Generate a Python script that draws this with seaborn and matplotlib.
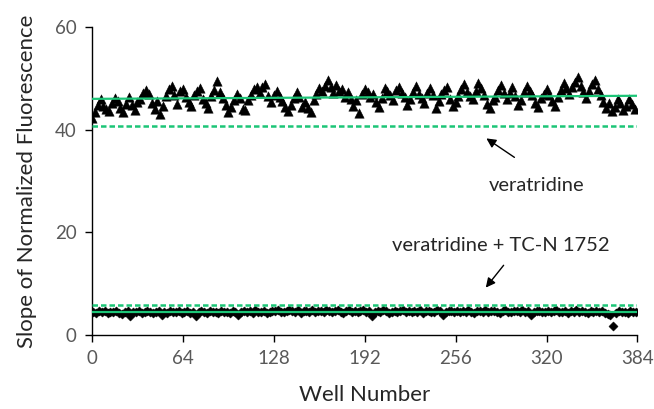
import seaborn as sns
import matplotlib.pyplot as plt
import numpy as np
import pandas as pd

# veratridine wells (triangles), every other well 0..382
ver_wells = list(range(0, 384, 2))
ver_vals = [
    42.3, 43.5, 44.8, 45.9, 44.6, 44.0, 43.6, 45.2, 46.1, 45.5, 44.2, 43.4, 45.0, 46.3, 44.9, 43.8,
    45.4, 46.0, 47.2, 47.8, 46.9, 45.2, 44.1, 45.6, 43.0, 44.7, 46.5, 47.9, 48.5, 46.8, 45.0, 47.6,
    48.0, 46.4, 45.3, 44.6, 46.8, 47.5, 48.2, 46.0, 45.1, 44.3, 46.6, 47.7, 49.5, 47.3, 46.2, 44.8,
    43.4, 44.5, 45.8, 47.0, 46.1, 44.0, 43.8, 45.7, 46.8, 47.9, 48.3, 47.2, 48.4, 48.8, 46.5, 45.3,
    46.7, 47.6, 46.3, 45.6, 44.4, 43.6, 44.9, 46.2, 47.3, 46.4, 44.5, 45.4, 44.2, 43.5, 45.8, 47.0,
    48.2, 47.5, 48.6, 49.6, 48.3, 47.2, 48.7, 47.6, 48.0, 46.3, 47.4, 45.9, 44.6, 45.8, 43.2, 46.9,
    47.9, 47.3, 46.4, 47.0, 45.4, 44.5, 46.1, 48.2, 47.5, 46.8, 45.7, 47.8, 48.4, 47.1, 46.3, 44.8,
    45.9, 47.4, 48.6, 47.0, 46.2, 45.1, 47.2, 48.1, 46.7, 44.3, 45.6, 46.9, 47.8, 48.3, 46.0, 44.7,
    45.3, 46.6, 48.0, 48.9, 47.4, 46.5, 45.9, 47.6, 49.0, 48.2, 46.8, 45.0, 44.2, 45.7, 46.3, 47.7,
    48.7, 47.2, 46.0, 47.1, 48.4, 46.6, 44.9, 45.8, 47.3, 48.5, 47.6, 46.7, 45.2, 44.4, 46.2, 47.0,
    47.9, 46.8, 45.5, 44.6, 46.4, 47.7, 49.0, 48.1, 46.9, 48.3, 49.3, 50.2, 48.6, 47.4, 46.2, 47.5,
    48.8, 49.6, 48.0, 46.7, 45.4, 44.3, 45.1, 43.6, 44.5, 46.0, 45.2, 43.8, 44.7, 45.9, 45.0, 44.1,
]

# veratridine + TC-N 1752 wells (diamonds), the other half
tc_wells = list(range(1, 384, 2))
tc_vals = [
    4.5, 4.3, 4.6, 4.4, 4.7, 4.2, 4.5, 4.4, 4.6, 4.3, 4.1, 4.5, 4.6, 3.7, 4.4, 4.5,
    4.6, 4.3, 4.5, 4.7, 4.4, 4.2, 4.5, 4.6, 3.9, 4.4, 4.3, 4.6, 4.5, 4.4, 4.7, 4.2,
    4.5, 4.6, 4.3, 4.5, 3.6, 4.4, 4.6, 4.5, 4.3, 4.7, 4.4, 4.5, 4.2, 4.6, 4.4, 4.5,
    4.3, 4.6, 4.5, 3.9, 4.4, 4.7, 4.5, 4.6, 4.3, 4.8, 4.5, 4.4, 4.6, 4.2, 4.5, 4.7,
    4.6, 4.8, 4.5, 4.4, 4.7, 4.9, 4.6, 4.5, 4.8, 4.3, 4.6, 4.7, 4.5, 4.8, 4.4, 4.6,
    4.7, 4.5, 4.9, 4.6, 4.4, 4.7, 4.8, 4.5, 4.3, 4.6, 4.8, 4.5, 4.7, 4.4, 4.6, 4.8,
    4.5, 4.7, 3.7, 4.4, 4.6, 4.5, 4.8, 4.6, 4.3, 4.5, 4.7, 4.4, 4.6, 4.9, 4.5, 4.7,
    4.4, 4.6, 4.5, 4.8, 4.3, 4.6, 4.7, 4.5, 4.4, 4.8, 4.6, 3.9, 4.5, 4.7, 4.6, 4.4,
    4.7, 4.5, 4.6, 4.4, 4.8, 4.5, 4.3, 4.7, 4.6, 4.5, 4.8, 4.4, 4.6, 4.7, 4.5, 4.3,
    4.6, 4.8, 4.5, 4.4, 4.7, 4.6, 4.5, 4.8, 4.4, 4.6, 3.8, 4.5, 4.7, 4.6, 4.4, 4.5,
    4.7, 4.5, 4.6, 4.8, 4.4, 4.5, 4.7, 4.3, 4.6, 4.5, 4.8, 4.4, 4.6, 4.5, 4.3, 4.7,
    4.5, 4.6, 4.4, 4.7, 4.3, 4.0, 3.9, 1.8, 4.2, 4.6, 4.4, 4.5, 4.3, 4.6, 4.5, 4.4,
]

# fit lines (solid) and cut-off lines (dashed)
line_x = [0, 384]
ver_fit = [46.0, 46.6]
ver_cut = [40.8, 40.8]
tc_fit = [4.55, 4.55]
tc_cut = [5.85, 5.85]

x_ticks = [0, 64, 128, 192, 256, 320, 384]
y_ticks = [0, 20, 40, 60]

green = "#1cc577"

sns.set_style("white")
plt.rcParams['font.family'] = ['Lato', 'DejaVu Sans']

fig = plt.figure(figsize=(6.54, 4.09), dpi=100)
ax = fig.add_axes([0.1407, 0.181, 0.834, 0.753])

ver_df = pd.DataFrame({"well": ver_wells, "slope": ver_vals})
tc_df = pd.DataFrame({"well": tc_wells, "slope": tc_vals})

sns.scatterplot(data=tc_df, x="well", y="slope", marker="D", s=22, color="black",
                edgecolor="black", linewidth=0.3, ax=ax, zorder=3)
sns.lineplot(x=line_x, y=tc_fit, color=green, linewidth=1.6, ax=ax, zorder=4)
sns.lineplot(x=line_x, y=tc_cut, color=green, linewidth=1.8, linestyle=(0, (2.2, 1.2)), ax=ax, zorder=4)

sns.scatterplot(data=ver_df, x="well", y="slope", marker="^", s=46, color="black",
                edgecolor="black", linewidth=0.3, ax=ax, zorder=3)
sns.lineplot(x=line_x, y=ver_fit, color=green, linewidth=1.6, ax=ax, zorder=4)
sns.lineplot(x=line_x, y=ver_cut, color=green, linewidth=1.8, linestyle=(0, (2.2, 1.2)), ax=ax, zorder=4)

ax.set_xlim(0, 384)
ax.set_ylim(0, 60)
ax.set_xticks(x_ticks)
ax.set_yticks(y_ticks)
ax.tick_params(axis='both', direction='out', length=5, width=1, color='black',
               labelcolor='#595959', labelsize=13.5, pad=6, bottom=True, left=True)
for side in ['top', 'right']:
    ax.spines[side].set_visible(False)
for side in ['left', 'bottom']:
    ax.spines[side].set_color('black')
    ax.spines[side].set_linewidth(1)

ax.set_xlabel('Well Number', fontsize=16, labelpad=13)
ax.set_ylabel('Slope of Normalized Fluorescence', fontsize=16, labelpad=13)

arrow = dict(arrowstyle='-|>', color='black', lw=1, mutation_scale=14)
ax.annotate('', xy=(276, 38.6), xytext=(299, 34.3), arrowprops=arrow)
ax.text(313, 29.2, 'veratridine', fontsize=14.5, ha='center', va='center')
ax.annotate('', xy=(276, 8.8), xytext=(291, 14.0), arrowprops=arrow)
ax.text(288, 17.5, 'veratridine + TC-N 1752', fontsize=14.5, ha='center', va='center')

fig.savefig('out.png', dpi=100)
